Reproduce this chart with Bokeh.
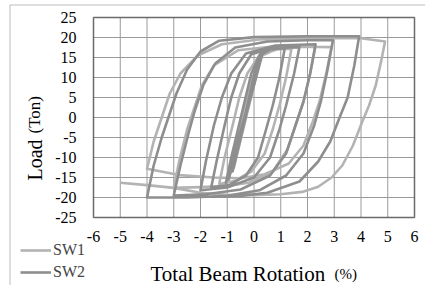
import math
from bokeh.plotting import figure
from bokeh.models import (FixedTicker, Range1d, Legend, LegendItem, LinearAxis,
                          BoxAnnotation, Label)
from bokeh.embed import file_html
from bokeh.resources import INLINE

# ---- data ----
x_ticks = [-6, -5, -4, -3, -2, -1, 0, 1, 2, 3, 4, 5, 6]
x_tick_labels = ["-6", "-5", "-4", "-3", "-2", "-1", "0", "1", "2", "3", "4", "5", "6"]
y_ticks = [-25, -20, -15, -10, -5, 0, 5, 10, 15, 20, 25]
y_tick_labels = ["-25", "-20", "-15", "-10", "-5", "0", "5", "10", "15", "20", "25"]

series_names = ["SW1", "SW2"]
x_title = ["Total Beam Rotation", "(%)"]
y_title = ["Load", "(Ton)"]

sw1_x = [-0.3, 0.15, -0.75, 0.3, -0.95,
         -0.75, -0.5, -0.25, 0.0, 0.3, 0.8, 1.4,
         1.2, 0.95, 0.7, 0.4, -0.1, -0.7, -1.3,
         -1.1, -0.8, -0.55, -0.25, 0.2, 1.0, 2.3,
         2.1, 1.85, 1.6, 1.25, 0.7, -0.2, -1.0, -2.0, -3.0,
         -2.8, -2.5, -2.25, -1.95, -1.5, -0.6, 0.8, 2.9,
         2.7, 2.45, 2.2, 1.85, 1.3, 0.4, -0.5, -1.5, -2.8, -4.0,
         -3.75, -3.45, -3.15, -2.75, -2.1, -1.2, 0.2, 2.0, 4.0, 4.9,
         4.75, 4.55, 4.3, 4.05, 3.7, 3.3, 2.9, 2.4, 1.8, 1.0, 0.0, -1.0, -2.0, -3.0, -4.0, -5.0]
sw1_y = [0.0, 14.0, -12.5, 16.3, -15.5,
         -9.0, -2.0, 5.0, 11.0, 15.5, 17.0, 17.2,
         10.0, 3.0, -3.0, -9.0, -13.5, -15.8, -16.6,
         -10.0, -2.0, 5.0, 11.0, 15.5, 17.4, 17.8,
         11.0, 4.0, -1.0, -8.0, -13.5, -16.3, -17.1, -17.4, -17.6,
         -11.0, -3.0, 2.0, 8.0, 13.0, 16.8, 17.8, 17.6,
         11.0, 4.0, -1.0, -7.0, -11.5, -14.2, -15.2, -15.0, -14.4, -12.8,
         -6.0, 0.0, 6.0, 11.0, 15.5, 18.3, 19.5, 19.8, 19.8, 19.0,
         14.0, 8.0, 3.0, -1.0, -7.0, -12.0, -15.0, -17.3, -18.6, -19.2, -19.4, -19.3, -18.8, -17.6, -16.9, -16.3]

sw2_x = [-0.35, 0.1, -0.8, 0.25, -0.95, 0.35, -1.05,
         -0.85, -0.6, -0.35, -0.1, 0.2, 0.6, 1.15,
         0.95, 0.7, 0.45, 0.15, -0.3, -0.9, -1.6,
         -1.4, -1.1, -0.85, -0.55, -0.1, 0.7, 1.7,
         1.5, 1.2, 0.95, 0.6, 0.0, -1.0, -2.0,
         -1.8, -1.5, -1.2, -0.85, -0.3, 0.8, 2.3,
         2.1, 1.85, 1.55, 1.2, 0.6, -0.5, -1.8, -3.0,
         -2.75, -2.45, -2.2, -1.9, -1.45, -0.7, 0.5, 2.0, 2.95,
         2.75, 2.5, 2.25, 1.85, 1.2, 0.2, -1.0, -2.5, -4.0,
         -3.75, -3.45, -3.2, -2.9, -2.5, -2.0, -1.3, 0.0, 2.0, 3.93,
         3.75, 3.5, 3.2, 2.85, 2.4, 1.7, 0.5, -0.5, -1.5]
sw2_y = [0.0, 13.5, -13.5, 16.0, -15.5, 16.8, -16.3,
         -10.0, -3.0, 4.0, 11.0, 15.5, 17.0, 17.3,
         10.0, 3.0, -3.0, -10.0, -14.5, -16.8, -17.5,
         -11.0, -2.0, 5.0, 11.0, 15.8, 17.4, 17.6,
         11.0, 3.0, -3.0, -10.0, -15.0, -17.5, -18.2,
         -11.0, -2.0, 5.0, 11.0, 16.0, 18.0, 18.3,
         11.0, 4.0, -2.0, -9.0, -14.5, -18.0, -19.2, -19.5,
         -12.0, -4.0, 2.0, 8.0, 13.5, 17.5, 19.0, 19.3, 19.3,
         12.0, 4.0, -2.0, -9.0, -14.5, -18.2, -19.6, -20.0, -20.0,
         -12.0, -5.0, 0.0, 6.0, 12.0, 16.5, 19.2, 20.1, 20.3, 20.3,
         13.0, 5.0, 0.0, -6.0, -11.0, -16.0, -18.8, -19.6, -19.8]

# ---- layout (pixels) ----
W, H = 425, 285
BOX_L, BOX_R, BOX_T, BOX_B = 93, 414, 17, 217        # plot box inside the canvas
sx = (BOX_R - BOX_L) / (x_ticks[-1] - x_ticks[0])
sy = (BOX_B - BOX_T) / (y_ticks[-1] - y_ticks[0])
x0 = x_ticks[0] - BOX_L / sx
x1 = x_ticks[-1] + (W - BOX_R) / sx
y1 = y_ticks[-1] + BOX_T / sy
y0 = y_ticks[0] - (H - BOX_B) / sy

def dx(px):  # canvas px -> data x
    return x0 + px / sx

def dy(py):  # canvas px (from top) -> data y
    return y1 - py / sy

FONT = "Liberation Serif"
p = figure(width=W, height=H, output_backend="svg", toolbar_location=None,
           x_range=Range1d(x0, x1), y_range=Range1d(y0, y1),
           x_axis_location=None, y_axis_location=None,
           min_border=0, min_border_left=0, min_border_right=0,
           min_border_top=0, min_border_bottom=0)
p.outline_line_color = None
p.background_fill_color = "white"
p.border_fill_color = "white"
p.xgrid.visible = False
p.ygrid.visible = False

# chart-area border (top and left edges)
p.add_layout(BoxAnnotation(left=dx(9.5), right=dx(W + 5), top=dy(4.5), bottom=dy(H + 5),
                           fill_alpha=0, line_color="#222222", line_width=1))

# grid lines
n_x = len(x_ticks)
n_y = len(y_ticks)
p.segment(x0=x_ticks, y0=[y_ticks[0]] * n_x, x1=x_ticks, y1=[y_ticks[-1]] * n_x,
          line_color="#9a9a9a", line_width=1)
p.segment(x0=[x_ticks[0]] * n_y, y0=y_ticks, x1=[x_ticks[-1]] * n_y, y1=y_ticks,
          line_color="#9a9a9a", line_width=1)

# axes placed at the plot box edges
xax = LinearAxis(ticker=FixedTicker(ticks=x_ticks), fixed_location=y_ticks[0],
                 bounds=(x_ticks[0], x_ticks[-1]))
yax = LinearAxis(ticker=FixedTicker(ticks=y_ticks), fixed_location=x_ticks[0],
                 bounds=(y_ticks[0], y_ticks[-1]))
xax.major_label_overrides = dict(zip(x_ticks, x_tick_labels))
yax.major_label_overrides = dict(zip(y_ticks, y_tick_labels))
for ax in (xax, yax):
    ax.axis_line_color = None
    ax.major_tick_line_color = None
    ax.minor_tick_line_color = None
    ax.major_tick_out = 0
    ax.major_tick_in = 0
    ax.major_label_text_font = FONT
    ax.major_label_text_font_size = "16px"
    ax.major_label_text_color = "black"
xax.major_label_standoff = 13
yax.major_label_standoff = 17
p.add_layout(xax, "below")
p.add_layout(yax, "left")

# data
r1 = p.line(sw1_x, sw1_y, line_color="#b3b3b3", line_width=2.6, line_join="round")
r2 = p.line(sw2_x, sw2_y, line_color="#8e8e8e", line_width=2.6, line_join="round")

# plot box
p.add_layout(BoxAnnotation(left=x_ticks[0], right=x_ticks[-1], bottom=y_ticks[0], top=y_ticks[-1],
                           fill_alpha=0, line_color="black", line_width=2))

# axis titles
p.add_layout(Label(x=dx(150), y=dy(273), text=x_title[0], text_font=FONT,
                   text_font_size="21px", text_align="left", text_baseline="alphabetic",
                   text_color="black"))
p.add_layout(Label(x=dx(334), y=dy(273), text=x_title[1], text_font=FONT,
                   text_font_size="15px", text_align="left", text_baseline="alphabetic",
                   text_color="black"))
p.add_layout(Label(x=dx(34), y=dy(180), text=y_title[0], text_font=FONT,
                   text_font_size="20px", text_align="left", text_baseline="alphabetic",
                   angle=math.pi / 2, text_color="black"))
p.add_layout(Label(x=dx(34), y=dy(133), text=y_title[1], text_font=FONT,
                   text_font_size="17px", text_align="left", text_baseline="alphabetic",
                   angle=math.pi / 2, text_color="black"))

legend = Legend(items=[LegendItem(label=series_names[0], renderers=[r1]),
                       LegendItem(label=series_names[1], renderers=[r2])],
                location=(20, H - 281), orientation="vertical",
                background_fill_alpha=0, border_line_color=None,
                padding=0, margin=0, spacing=4,
                glyph_width=31, glyph_height=14, label_height=14, label_standoff=2,
                label_text_font=FONT, label_text_font_size="16px")
p.add_layout(legend, "center")

open("out.html", "w").write(file_html(p, INLINE))
